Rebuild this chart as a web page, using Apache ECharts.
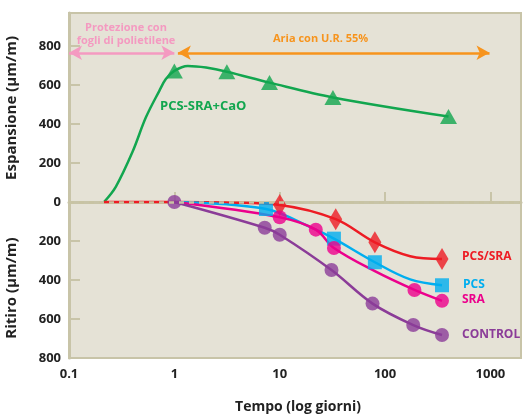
<!DOCTYPE html>
<html>
<head>
<meta charset="utf-8">
<script src="https://cdn.jsdelivr.net/npm/echarts@6/dist/echarts.min.js"></script>
<style>html,body{margin:0;padding:0;background:#fff;}#c{width:524px;height:417px;}</style>
</head>
<body>
<div id="c"></div>
<script>
// Data: [days, µm/m]  (expansion positive, shrinkage negative)
var xTicks = [0.1, 1, 10, 100, 1000];
var yTicks = [-800, -600, -400, -200, 0, 200, 400, 600, 800];

var caoLine = [[0.215,0],[0.278,78],[0.40,256],[0.537,434],[0.72,570],[0.83,630],[1,672],[1.34,697],[2.0,689],[3.15,668],[8,612],[32,536],[400,438]];
var caoMarks = [[1,672],[3.15,668],[8,612],[32,536],[400,438]];

var pcsSraLine = [[0.215,0],[1,0],[3,-3],[10,-15],[34,-88],[80,-207],[173,-278],[347,-292]];
var pcsSraMarks = [[10,-15],[34,-88],[80,-207],[347,-292]];

var pcsLine = [[1,0],[7.4,-36],[20,-132],[32.7,-188],[80,-309],[173,-397],[347,-427]];
var pcsMarks = [[7.4,-36],[32.7,-188],[80,-309],[347,-427]];

var sraLine = [[1,0],[10,-78],[22,-142],[32.7,-236],[80,-355],[190,-451],[347,-507]];
var sraMarks = [[10,-78],[22,-142],[32.7,-236],[190,-451],[347,-507]];

var ctrlLine = [[1,0],[7.2,-132],[10,-168],[31,-349],[76,-521],[185,-631],[347,-682]];
var ctrlMarks = [[1,0],[7.2,-132],[10,-168],[31,-349],[76,-521],[185,-631],[347,-682]];

var arrowY = 765;
var protezione = [0.1, 1];
var aria = [1.08, 980];

var C = {green:'#12a64f', red:'#ed1c24', cyan:'#00aeef', mag:'#ec008c', purple:'#8b3c98', pink:'#f49ac1', orange:'#f7941d', axis:'#c8c4a8', bg:'#e5e2d6'};
var F = '"Open Sans", sans-serif';

function lineS(data, color){
  return {type:'line', data:data, smooth:0.35, showSymbol:false, lineStyle:{color:color, width:2.5}, z:2, silent:true};
}
function markS(data, color, symbol, size){
  return {type:'scatter', data:data, symbol:symbol, symbolSize:size, itemStyle:{color:color}, z:3, silent:true};
}

var chart = echarts.init(document.getElementById('c'), null, {renderer:'canvas'});
chart.setOption({
  animation:false,
  grid:{left:69, top:13, right:0, bottom:59, show:true, backgroundColor:C.bg, borderColor:C.axis, borderWidth:2},
  xAxis:{type:'log', logBase:10, min:0.1, max:1950,
    axisLine:{show:true, lineStyle:{color:C.axis, width:3}},
    axisTick:{show:true, inside:true, length:10, lineStyle:{color:C.axis, width:2}},
    axisLabel:{color:'#222', fontFamily:F, fontWeight:'bold', fontSize:13, margin:10,
      formatter:function(v){ return Math.abs(v-0.1)<1e-9 ? '0.1' : (xTicks.indexOf(+v)>=0 ? String(v) : ''); }},
    splitLine:{show:false}, minorTick:{show:false}},
  yAxis:{type:'value', min:-800, max:969, interval:200,
    axisLine:{show:true, lineStyle:{color:C.axis, width:3}},
    axisTick:{show:true, inside:true, length:11, lineStyle:{color:C.axis, width:2}},
    axisLabel:{color:'#222', fontFamily:F, fontWeight:'bold', fontSize:13, margin:8, showMaxLabel:false,
      formatter:function(v){ return yTicks.indexOf(v)>=0 ? String(Math.abs(v)) : ''; }},
    splitLine:{show:false}},
  series:[
    {type:'line', data:[], markLine:{silent:true, symbol:['none','none'], label:{show:false},
      lineStyle:{color:'#c8c3a3', type:[5,5], width:2.5}, data:[{yAxis:0}]}},
    {type:'line', data:[], markLine:{silent:true, symbol:['arrow','arrow'], symbolSize:[11,13], label:{show:false},
      lineStyle:{color:C.pink, type:'solid', width:2.5}, data:[[{coord:[protezione[0],arrowY]},{coord:[protezione[1],arrowY]}]]}},
    {type:'line', data:[], markLine:{silent:true, symbol:['arrow','arrow'], symbolSize:[11,13], label:{show:false},
      lineStyle:{color:C.orange, type:'solid', width:2.5}, data:[[{coord:[aria[0],arrowY]},{coord:[aria[1],arrowY]}]]}},
    lineS(caoLine, C.green),
    lineS(pcsSraLine, C.red),
    lineS(pcsLine, C.cyan),
    lineS(sraLine, C.mag),
    lineS(ctrlLine, C.purple),
    markS(caoMarks, C.green, 'triangle', [17,15]),
    markS(pcsSraMarks, C.red, 'diamond', [13,22]),
    markS(pcsMarks, C.cyan, 'rect', [14,14]),
    markS(sraMarks, C.mag, 'circle', 14),
    markS(ctrlMarks, C.purple, 'circle', 14)
  ],
  graphic:[
    {type:'text', style:{text:'Protezione con\nfogli di polietilene', x:126, y:21, align:'center', fill:C.pink, font:'bold 11px '+F, lineHeight:13}},
    {type:'text', style:{text:'Aria con U.R. 55%', x:273, y:33, fill:C.orange, font:'bold 11px '+F}},
    {type:'text', style:{text:'PCS-SRA+CaO', x:160, y:100, fill:C.green, font:'bold 13px '+F}},
    {type:'text', style:{text:'PCS/SRA', x:462, y:251, fill:C.red, font:'bold 12px '+F}},
    {type:'text', style:{text:'PCS', x:463, y:279, fill:C.cyan, font:'bold 12px '+F}},
    {type:'text', style:{text:'SRA', x:462, y:294, fill:C.mag, font:'bold 12px '+F}},
    {type:'text', style:{text:'CONTROL', x:462, y:329, fill:C.purple, font:'bold 12px '+F}},
    {type:'text', style:{text:'Tempo (log giorni)', x:298, y:400, align:'center', fill:'#222', font:'bold 14px '+F}},
    {type:'text', rotation:Math.PI/2, x:12, y:108, style:{text:'Espansione (µm/m)', x:0, y:0, align:'center', verticalAlign:'middle', fill:'#222', font:'bold 15px '+F}},
    {type:'text', rotation:Math.PI/2, x:12, y:288, style:{text:'Ritiro (µm/m)', x:0, y:0, align:'center', verticalAlign:'middle', fill:'#222', font:'bold 15px '+F}}
  ]
});
</script>
</body>
</html>
